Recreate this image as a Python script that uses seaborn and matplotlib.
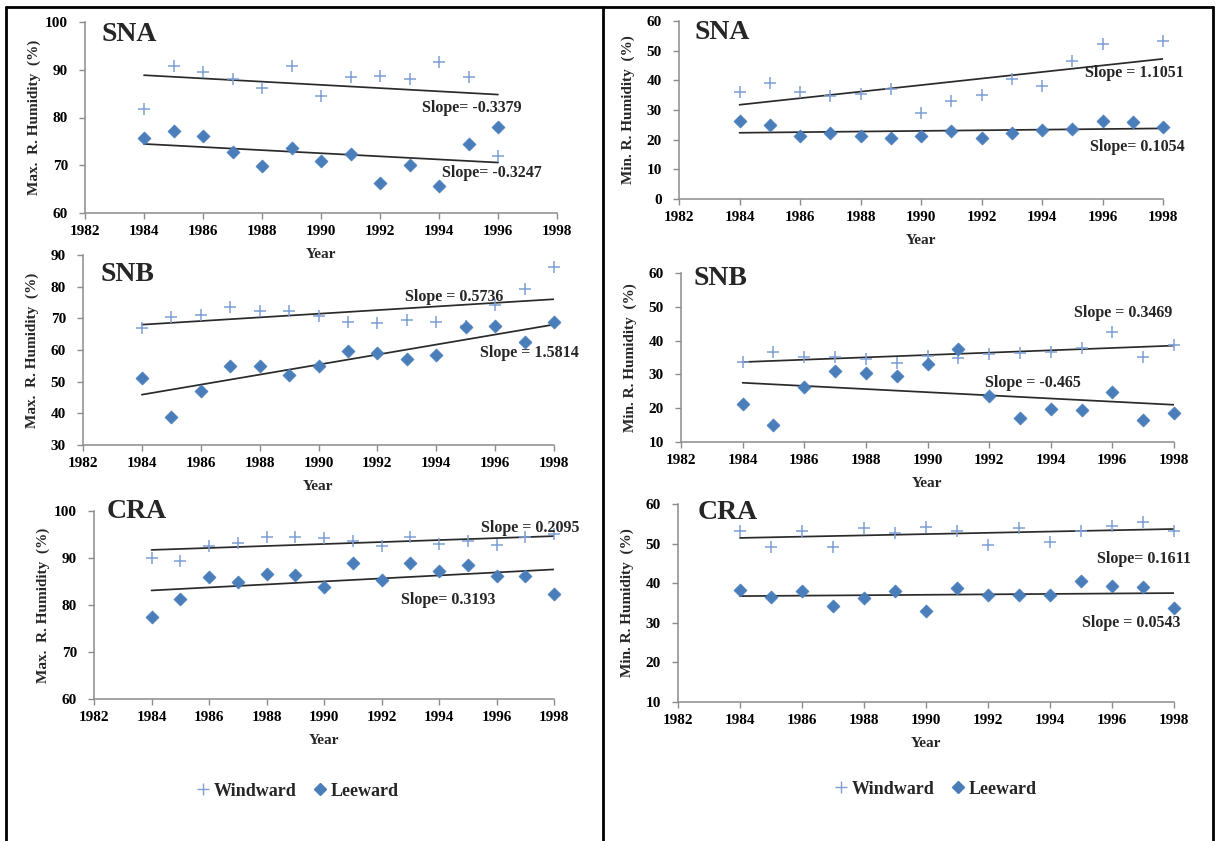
import numpy as np
import pandas as pd
import matplotlib
matplotlib.use("Agg")
import matplotlib.pyplot as plt
from matplotlib.lines import Line2D
import seaborn as sns

# ---------------- data ----------------
years_sna_max = list(range(1984, 1997))
years_full = list(range(1984, 1999))

sna_max_windward = [81.8, 90.8, 89.6, 88.0, 86.2, 90.8, 84.5, 88.4, 88.7, 88.0, 91.6, 88.4, 72.0]
sna_max_leeward = [75.7, 77.2, 76.2, 72.7, 69.8, 73.6, 70.8, 72.3, 66.3, 70.0, 65.7, 74.4, 78.0]

sna_min_windward = [36.2, 39.0, 36.2, 34.8, 35.4, 37.0, 28.9, 33.1, 35.2, 40.5, 38.1, 46.5, 52.2, np.nan, 53.2]
sna_min_leeward = [26.2, 24.9, 21.3, 22.1, 21.1, 20.4, 21.3, 23.0, 20.4, 22.2, 23.1, 23.5, 26.2, 25.8, 24.4]

snb_max_windward = [67.1, 70.3, 71.1, 73.7, 72.3, 72.3, 70.7, 68.9, 68.4, 69.5, 68.9, 67.6, 74.2, 79.2, 86.1]
snb_max_leeward = [51.3, 38.8, 47.2, 55.0, 55.0, 52.1, 55.0, 59.7, 58.9, 57.2, 58.4, 67.2, 67.5, 62.5, 68.7]

snb_min_windward = [33.7, 36.5, 35.1, 35.1, 34.5, 33.4, 35.3, 34.8, 35.9, 36.4, 36.5, 37.8, 42.4, 35.2, 38.7]
snb_min_leeward = [21.2, 15.1, 26.3, 31.1, 30.3, 29.5, 33.0, 37.5, 23.7, 17.2, 19.7, 19.4, 24.9, 16.4, 18.7]

cra_max_windward = [89.9, 89.4, 92.6, 93.1, 94.5, 94.4, 94.2, 93.7, 92.6, 94.5, 92.9, 93.6, 92.8, 94.4, 95.2]
cra_max_leeward = [77.4, 81.3, 85.9, 84.8, 86.7, 86.4, 83.9, 88.9, 85.3, 88.9, 87.3, 88.5, 86.2, 86.2, 82.3]

cra_min_windward = [53.1, 49.1, 53.1, 49.1, 53.9, 52.7, 54.1, 53.1, 49.7, 53.9, 50.4, 53.1, 54.5, 55.5, 53.1]
cra_min_leeward = [38.4, 36.5, 38.1, 34.3, 36.3, 38.1, 33.1, 38.7, 37.1, 37.0, 36.9, 40.5, 39.2, 39.0, 33.7]

# trend slopes (%/year) as printed on each panel
slopes = {
    "sna_max": (-0.3379, -0.3247),
    "sna_min": (1.1051, 0.1054),
    "snb_max": (0.5736, 1.5814),
    "snb_min": (0.3469, -0.465),
    "cra_max": (0.2095, 0.3193),
    "cra_min": (0.1611, 0.0543),
}
slope_texts = {
    "sna_max": ("Slope= -0.3379", "Slope= -0.3247"),
    "sna_min": ("Slope = 1.1051", "Slope= 0.1054"),
    "snb_max": ("Slope = 0.5736", "Slope = 1.5814"),
    "snb_min": ("Slope = 0.3469", "Slope = -0.465"),
    "cra_max": ("Slope = 0.2095", "Slope= 0.3193"),
    "cra_min": ("Slope= 0.1611", "Slope = 0.0543"),
}

# ---------------- style ----------------
sns.set_style("white")
plt.rcParams["font.family"] = ["Liberation Serif", "DejaVu Serif"]
plt.rcParams["font.weight"] = "bold"

W, H = 1219, 841
fig = plt.figure(figsize=(W / 100, H / 100), dpi=100)

PLUS_C = "#7f9fd4"
DIAM_C = "#4a7ebb"
AXIS_C = "#8c8c8c"
LINE_C = "#2a2a2a"


def px_axes(x0, y0, x1, y1):
    ax = fig.add_axes([x0 / W, (H - y1) / H, (x1 - x0) / W, (y1 - y0) / H])
    ax.set_facecolor("none")
    return ax


panels = [
    # key, site, years, wind, lee, box(px), ylim, yticks, ylabel, title pos, slope-text positions
    ("sna_max", "SNA", years_sna_max, sna_max_windward, sna_max_leeward,
     (85, 22, 557, 213), (60, 100), [60, 70, 80, 90, 100], "Max.  R. Humidity  (%)",
     (0.034, 0.932), ((0.714, 0.550), (0.756, 0.209))),
    ("sna_min", "SNA", years_full, sna_min_windward, sna_min_leeward,
     (679, 21, 1163, 199), (0, 60), [0, 10, 20, 30, 40, 50, 60], "Min. R. Humidity  (%)",
     (0.031, 0.933), ((0.839, 0.708), (0.849, 0.292))),
    ("snb_max", "SNB", years_full, snb_max_windward, snb_max_leeward,
     (83, 255, 554, 445), (30, 90), [30, 40, 50, 60, 70, 80, 90], "Max.  R. Humidity  (%)",
     (0.038, 0.895), ((0.684, 0.779), (0.843, 0.484))),
    ("snb_min", "SNB", years_full, snb_min_windward, snb_min_leeward,
     (681, 273, 1174, 442), (10, 60), [10, 20, 30, 40, 50, 60], "Min. R. Humidity  (%)",
     (0.026, 0.965), ((0.797, 0.763), (0.617, 0.349))),
    ("cra_max", "CRA", years_full, cra_max_windward, cra_max_leeward,
     (94, 511, 554, 699), (60, 100), [60, 70, 80, 90, 100], "Max.  R. Humidity  (%)",
     (0.028, 0.995), ((0.841, 0.910), (0.667, 0.527))),
    ("cra_min", "CRA", years_full, cra_min_windward, cra_min_leeward,
     (678, 504, 1174, 702), (10, 60), [10, 20, 30, 40, 50, 60], "Min. R. Humidity  (%)",
     (0.040, 0.955), ((0.845, 0.722), (0.815, 0.399))),
]

for key, site, yrs, wind, lee, box, ylim, yticks, ylabel, tpos, spos in panels:
    ax = px_axes(*box)
    df = pd.DataFrame({"Year": yrs, "Windward": wind, "Leeward": lee})

    # trend lines: given slope through the series centroid (least-squares line)
    for col, slope in zip(["Windward", "Leeward"], slopes[key]):
        d = df.dropna(subset=[col])
        xm, ym = d["Year"].mean(), d[col].mean()
        x_end = np.array([d["Year"].min(), d["Year"].max()], dtype=float)
        trend = pd.DataFrame({"Year": x_end, "val": ym + slope * (x_end - xm)})
        sns.lineplot(data=trend, x="Year", y="val", ax=ax, color=LINE_C,
                     linewidth=1.25, estimator=None, zorder=2)

    sns.scatterplot(data=df, x="Year", y="Windward", ax=ax, marker="+", s=80,
                    color=PLUS_C, linewidth=1.1, zorder=3, label="Windward", clip_on=False)
    sns.scatterplot(data=df, x="Year", y="Leeward", ax=ax, marker="D", s=44,
                    color=DIAM_C, edgecolor=DIAM_C, linewidth=0.5, zorder=4,
                    label="Leeward", clip_on=False)
    if ax.get_legend() is not None:
        ax.get_legend().remove()

    ax.set_xlim(1982, 1998)
    ax.set_xticks(range(1982, 1999, 2))
    ax.set_ylim(*ylim)
    ax.set_yticks(yticks)

    for s in ["top", "right"]:
        ax.spines[s].set_visible(False)
    for s in ["left", "bottom"]:
        ax.spines[s].set_color(AXIS_C)
        ax.spines[s].set_linewidth(1.1)
    ax.tick_params(axis="both", which="major", direction="out", length=4.3, width=1.0,
                   color=AXIS_C, labelsize=11, pad=4, labelcolor="black",
                   left=True, bottom=True)
    ax.tick_params(axis="y", pad=8)
    for lab in ax.get_xticklabels() + ax.get_yticklabels():
        lab.set_fontweight("bold")

    hpx = box[3] - box[1]
    wpx = box[2] - box[0]
    ax.set_xlabel("Year", fontsize=11, fontweight="bold")
    ax.xaxis.set_label_coords(0.5, -(35.0 / hpx))
    ax.set_ylabel(ylabel, fontsize=11, fontweight="bold")
    ax.yaxis.set_label_coords(-(44.0 / wpx), 0.5)

    ax.text(tpos[0], tpos[1], site, transform=ax.transAxes, ha="left", va="center",
            fontsize=20, fontweight="bold")
    for (fx, fy), txt in zip(spos, slope_texts[key]):
        ax.text(fx, fy, txt, transform=ax.transAxes, ha="left", va="center",
                fontsize=11.5, fontweight="bold", clip_on=False)

# legends under each column
handles = [
    Line2D([], [], marker="+", linestyle="none", color=PLUS_C, markersize=9, markeredgewidth=1.0),
    Line2D([], [], marker="D", linestyle="none", color=DIAM_C, markersize=6.5),
]
for cx, cy in [(297, 791), (935, 789)]:
    fig.legend(handles, ["Windward", "Leeward"], loc="center",
               bbox_to_anchor=(cx / W, 1 - cy / H), ncol=2, frameon=False,
               handlelength=0.8, handletextpad=0.2, columnspacing=0.9,
               prop={"family": "Liberation Serif", "weight": "bold", "size": 13})

# outer frame and column divider
frame_lw = 2.0
for xs, ys in [((6 / W, 6 / W), (0, 1 - 7 / H)),
               ((1213 / W, 1213 / W), (0, 1 - 7 / H)),
               ((6 / W, 1213 / W), (1 - 7 / H, 1 - 7 / H)),
               ((603 / W, 603 / W), (0, 1 - 7 / H))]:
    fig.add_artist(Line2D(xs, ys, transform=fig.transFigure, color="black", linewidth=frame_lw))

fig.savefig("out.png", dpi=100, facecolor="white")
